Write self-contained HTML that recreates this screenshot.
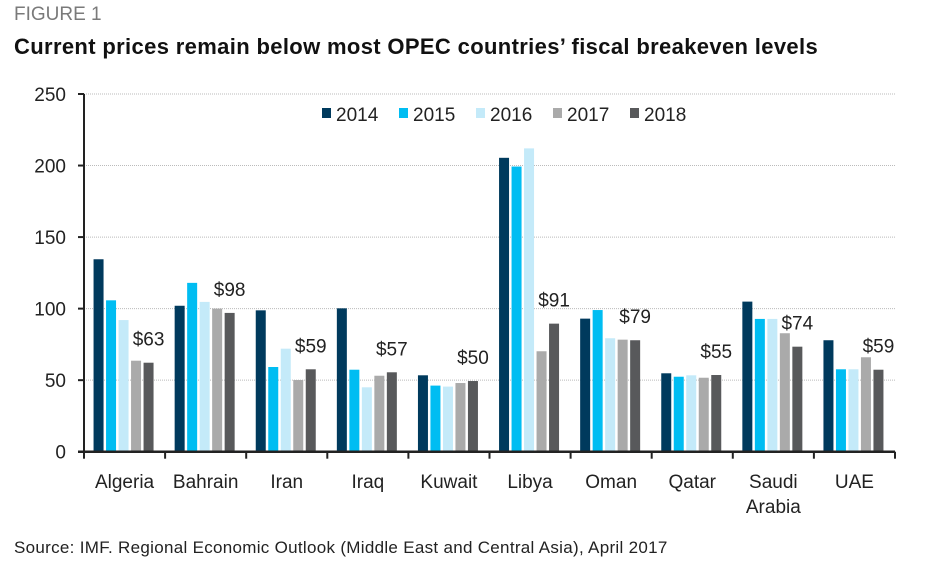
<!DOCTYPE html>
<html><head><meta charset="utf-8"><style>
body{margin:0;background:#fff;font-family:"Liberation Sans",sans-serif;}
#wrap{position:relative;width:931px;height:571px;overflow:hidden;}
</style></head><body>
<div id="wrap">
<div style="position:absolute;left:14px;top:4px;font-size:19px;color:#7a7a7a;">FIGURE 1</div>
<div style="position:absolute;left:14px;top:34px;font-size:22px;letter-spacing:0.35px;font-weight:bold;color:#111;white-space:nowrap;">Current prices remain below most OPEC countries’ fiscal breakeven levels</div>
<svg id="chart" width="931" height="571" style="position:absolute;left:0;top:0;" font-family="Liberation Sans, sans-serif"></svg>
<div style="position:absolute;left:14px;top:538px;font-size:17px;letter-spacing:0.3px;color:#222;white-space:nowrap;">Source: IMF. Regional Economic Outlook (Middle East and Central Asia), April 2017</div>
</div>
<script>
const categories=[["Algeria"],["Bahrain"],["Iran"],["Iraq"],["Kuwait"],["Libya"],["Oman"],["Qatar"],["Saudi","Arabia"],["UAE"]];
const years=["2014","2015","2016","2017","2018"];
const s2014=[134.5,102,98.8,100.2,53.4,205.4,93,54.8,104.9,77.9];
const s2015=[105.8,118,59.2,57.3,46.2,199.3,99,52.4,92.8,57.6];
const s2016=[92,104.7,72,45,45.5,212,79.3,53.4,92.8,57.6];
const s2017=[63.6,100,50.1,53.1,48,70.2,78.3,51.7,82.8,66];
const s2018=[62.2,97,57.6,55.5,49.4,89.5,77.9,53.6,73.4,57.3];
const priceLabels=["$63","$98","$59","$57","$50","$91","$79","$55","$74","$59"];
const yTicks=[0,50,100,150,200,250];
const colors=["#003a5d","#00bdf2","#c4eaf9","#aaaaaa","#58595b"];
const series=[s2014,s2015,s2016,s2017,s2018];
const NS="http://www.w3.org/2000/svg";
const svg=document.getElementById('chart');
const x0=84,x1=895,y0=451.7,yTop=94,yMax=250;
const catW=(x1-x0)/categories.length;
const y=v=>y0-(v/yMax)*(y0-yTop);
const catX=i=>x0+i*catW;
function mk(t,a){const e=document.createElementNS(NS,t);for(const k in a)e.setAttribute(k,a[k]);svg.appendChild(e);return e;}
yTicks.forEach(t=>{
  if(t>0){const g=mk('line',{x1:x0,x2:x1,y1:y(t),y2:y(t),stroke:'#bbb','stroke-dasharray':'1,1','stroke-width':1});
  
  }
  const tk=mk('line',{x1:x0-6,x2:x0,y1:y(t),y2:y(t),stroke:'#222','stroke-width':2});
  
  
  const l=mk('text',{x:66,y:y(t)+7,'text-anchor':'end','font-size':19,fill:'#222'});l.textContent=t;
  
  
});
const bw=10,step=12.5;
categories.forEach((c,i)=>{
  const gs=catX(i)+catW/2-31;
  series.forEach((s,j)=>{
    const r=mk('rect',{x:gs+j*step,y:y(s[i]),width:bw,height:y0-y(s[i]),fill:colors[j]});
    
    
  });
  const lx=gs+4*step+bw/2;
  const pl=mk('text',{x:lx,y:y(s2018[i])-17,'text-anchor':'middle','font-size':19,fill:'#222'});pl.textContent=priceLabels[i];
  
  
  c.forEach((w,k)=>{
    const t=mk('text',{x:catX(i)+catW/2,y:488+k*25,'text-anchor':'middle','font-size':19,fill:'#222'});t.textContent=w;
    
    
  });
});
for(let i=0;i<=categories.length;i++){
  const t=mk('line',{x1:catX(i),x2:catX(i),y1:y0,y2:y0+7,stroke:'#222','stroke-width':2});
  
  
}
const ax=mk('line',{x1:x0,x2:x0,y1:yTop,y2:y0,stroke:'#222','stroke-width':2});


const bx=mk('line',{x1:x0-6,x2:x1,y1:y0,y2:y0,stroke:'#222','stroke-width':2.5});


years.forEach((yr,j)=>{
  const lx=322+j*77;
  const sq=mk('rect',{x:lx,y:108,width:9,height:10,fill:colors[j]});
  
  
  const t=mk('text',{x:lx+14,y:121,'font-size':19,fill:'#222'});t.textContent=yr;
  
  
});
</script>
</body></html>
